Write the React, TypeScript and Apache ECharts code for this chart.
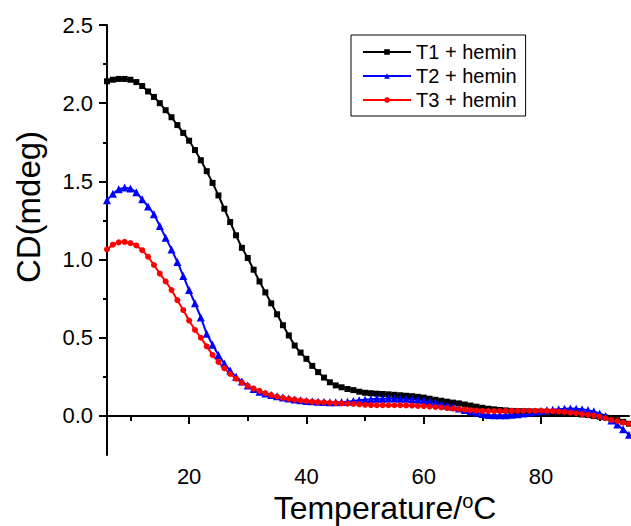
import React, { useEffect, useRef } from "react";
import * as echarts from "echarts";

const temperature = [
  6, 7, 8, 9, 10, 11, 12, 13, 14, 15, 16, 17, 18, 19, 20, 21, 22, 23, 24, 25,
  26, 27, 28, 29, 30, 31, 32, 33, 34, 35, 36, 37, 38, 39, 40, 41, 42, 43, 44, 45,
  46, 47, 48, 49, 50, 51, 52, 53, 54, 55, 56, 57, 58, 59, 60, 61, 62, 63, 64, 65,
  66, 67, 68, 69, 70, 71, 72, 73, 74, 75, 76, 77, 78, 79, 80, 81, 82, 83, 84, 85,
  86, 87, 88, 89, 90, 91, 92, 93, 94, 95,
];

const t1Hemin = [
  2.14, 2.15, 2.155, 2.155, 2.15, 2.135, 2.11, 2.075, 2.04, 2.0,
  1.955, 1.91, 1.86, 1.81, 1.76, 1.7, 1.635, 1.565, 1.49, 1.41,
  1.325, 1.24, 1.155, 1.075, 1.01, 0.935, 0.86, 0.79, 0.72, 0.65,
  0.58, 0.515, 0.45, 0.405, 0.365, 0.32, 0.28, 0.245, 0.215, 0.195,
  0.183, 0.172, 0.165, 0.155, 0.148, 0.145, 0.142, 0.14, 0.138, 0.135,
  0.132, 0.129, 0.126, 0.122, 0.117, 0.11, 0.103, 0.097, 0.091, 0.085,
  0.08, 0.073, 0.066, 0.059, 0.052, 0.046, 0.042, 0.038, 0.035, 0.032,
  0.031, 0.03, 0.029, 0.028, 0.027, 0.026, 0.024, 0.022, 0.02, 0.017,
  0.013, 0.009, 0.005, 0.0, -0.005, -0.01, -0.018, -0.027, -0.038, -0.05,
];

const t2Hemin = [
  1.38, 1.42, 1.45, 1.46, 1.455, 1.43, 1.385, 1.34, 1.29, 1.215,
  1.14, 1.065, 0.985, 0.895, 0.805, 0.72, 0.63, 0.525, 0.455, 0.39,
  0.335, 0.29, 0.25, 0.22, 0.194, 0.172, 0.155, 0.143, 0.133, 0.125,
  0.118, 0.111, 0.105, 0.1, 0.096, 0.093, 0.09, 0.089, 0.088, 0.088,
  0.089, 0.091, 0.095, 0.1, 0.104, 0.107, 0.109, 0.11, 0.111, 0.111,
  0.11, 0.109, 0.107, 0.105, 0.1, 0.093, 0.085, 0.076, 0.067, 0.058,
  0.048, 0.038, 0.029, 0.02, 0.012, 0.006, 0.004, 0.004, 0.005, 0.007,
  0.01, 0.015, 0.02, 0.026, 0.032, 0.036, 0.04, 0.043, 0.046, 0.047,
  0.046, 0.043, 0.037, 0.029, 0.016, 0.0, -0.03, -0.055, -0.085, -0.12,
];

const t3Hemin = [
  1.065, 1.095, 1.11, 1.113, 1.105, 1.09, 1.06, 1.018, 0.965, 0.91,
  0.86, 0.805, 0.74, 0.677, 0.61, 0.55, 0.5, 0.445, 0.39, 0.345,
  0.305, 0.268, 0.238, 0.212, 0.192, 0.175, 0.16, 0.145, 0.133, 0.123,
  0.115, 0.109, 0.104, 0.099, 0.095, 0.091, 0.088, 0.086, 0.084, 0.082,
  0.08, 0.078, 0.076, 0.074, 0.071, 0.069, 0.068, 0.068, 0.068, 0.068,
  0.068, 0.067, 0.066, 0.064, 0.063, 0.06, 0.057, 0.054, 0.05, 0.047,
  0.044, 0.04, 0.037, 0.034, 0.032, 0.031, 0.031, 0.031, 0.032, 0.032,
  0.032, 0.033, 0.033, 0.033, 0.033, 0.032, 0.03, 0.028, 0.025, 0.021,
  0.017, 0.012, 0.007, 0.002, -0.005, -0.015, -0.025, -0.033, -0.043, -0.052,
];

const seriesNames = ["T1 + hemin", "T2 + hemin", "T3 + hemin"];
const xMajorTicks = [20, 40, 60, 80];
const xMinorTicks = [10, 30, 50, 70, 90];
const yMajorTicks = [0, 0.5, 1.0, 1.5, 2.0, 2.5];
const yMinorTicks = [0.25, 0.75, 1.25, 1.75, 2.25];

const FONT = '"Liberation Sans", Arial, sans-serif';

export default function App() {
  const ref = useRef<HTMLDivElement>(null);

  useEffect(() => {
    if (!ref.current) return;
    const chart = echarts.init(ref.current, null, { renderer: "svg" });
    const pairs = (vals: number[]) => temperature.map((t, i) => [t, vals[i]]);
    const axisLine = { show: true, lineStyle: { color: "#000", width: 2 } };
    const option: any = {
      animation: false,
      backgroundColor: "#fff",
      grid: { left: 107, right: 2, top: 25, bottom: 71, containLabel: false },
      legend: {
        orient: "vertical",
        left: 351,
        top: 35,
        data: seriesNames,
        itemWidth: 48,
        itemHeight: 7,
        itemGap: 4,
        padding: [7, 9, 6, 11],
        borderColor: "#000",
        borderWidth: 1,
        textStyle: { fontFamily: FONT, fontSize: 20, color: "#000" },
      },
      xAxis: [
        {
          type: "value",
          min: 6,
          max: 95,
          position: "bottom",
          axisLine,
          splitLine: { show: false },
          axisTick: { show: true, length: 8, lineStyle: { color: "#000", width: 2 }, customValues: xMajorTicks },
          axisLabel: { customValues: xMajorTicks, fontFamily: FONT, fontSize: 22, color: "#000", margin: 10 },
        },
        {
          type: "value",
          min: 6,
          max: 95,
          position: "bottom",
          axisLine: { show: false },
          splitLine: { show: false },
          axisTick: { show: true, length: 5, lineStyle: { color: "#000", width: 2 }, customValues: xMinorTicks },
          axisLabel: { show: false },
        },
      ],
      yAxis: [
        {
          type: "value",
          min: -0.25,
          max: 2.5,
          position: "left",
          axisLine,
          splitLine: { show: false },
          axisTick: { show: true, length: 8, lineStyle: { color: "#000", width: 2 }, customValues: yMajorTicks },
          axisLabel: {
            customValues: yMajorTicks,
            fontFamily: FONT,
            fontSize: 22,
            color: "#000",
            margin: 14,
            formatter: (v: number) => v.toFixed(1),
          },
        },
        {
          type: "value",
          min: -0.25,
          max: 2.5,
          position: "left",
          axisLine: { show: false },
          splitLine: { show: false },
          axisTick: { show: true, length: 4, lineStyle: { color: "#000", width: 2 }, customValues: yMinorTicks },
          axisLabel: { show: false },
        },
      ],
      graphic: [
        {
          type: "text",
          x: 28,
          y: 207,
          rotation: Math.PI / 2,
          style: {
            text: "CD(mdeg)",
            font: `33px ${FONT}`,
            fill: "#000",
            align: "center",
            verticalAlign: "middle",
            textAlign: "center",
            textVerticalAlign: "middle",
          },
        },
        {
          type: "text",
          x: 385,
          y: 525,
          style: {
            text: "Temperature/{s|o}C",
            font: `32px ${FONT}`,
            fill: "#000",
            align: "center",
            verticalAlign: "bottom",
            textAlign: "center",
            textVerticalAlign: "bottom",
            rich: {
              s: { fontSize: 20, fontFamily: FONT, fill: "#000", verticalAlign: "top", padding: [0, 0, 14, 0] },
            },
          },
        },
      ],
      series: [
        {
          name: seriesNames[0],
          type: "line",
          data: pairs(t1Hemin),
          symbol: "rect",
          symbolSize: 6,
          lineStyle: { color: "#000", width: 2 },
          itemStyle: { color: "#000" },
        },
        {
          name: seriesNames[1],
          type: "line",
          data: pairs(t2Hemin),
          symbol: "triangle",
          symbolSize: 8,
          lineStyle: { color: "#0000ff", width: 2 },
          itemStyle: { color: "#0000ff" },
        },
        {
          name: seriesNames[2],
          type: "line",
          data: pairs(t3Hemin),
          symbol: "circle",
          symbolSize: 6,
          lineStyle: { color: "#ff0000", width: 2 },
          itemStyle: { color: "#ff0000" },
        },
      ],
    };
    chart.setOption(option);
    return () => chart.dispose();
  }, []);

  return (
    <div
      ref={ref}
      style={{ position: "fixed", left: 0, top: 0, width: 631, height: 526, background: "#fff" }}
    />
  );
}
